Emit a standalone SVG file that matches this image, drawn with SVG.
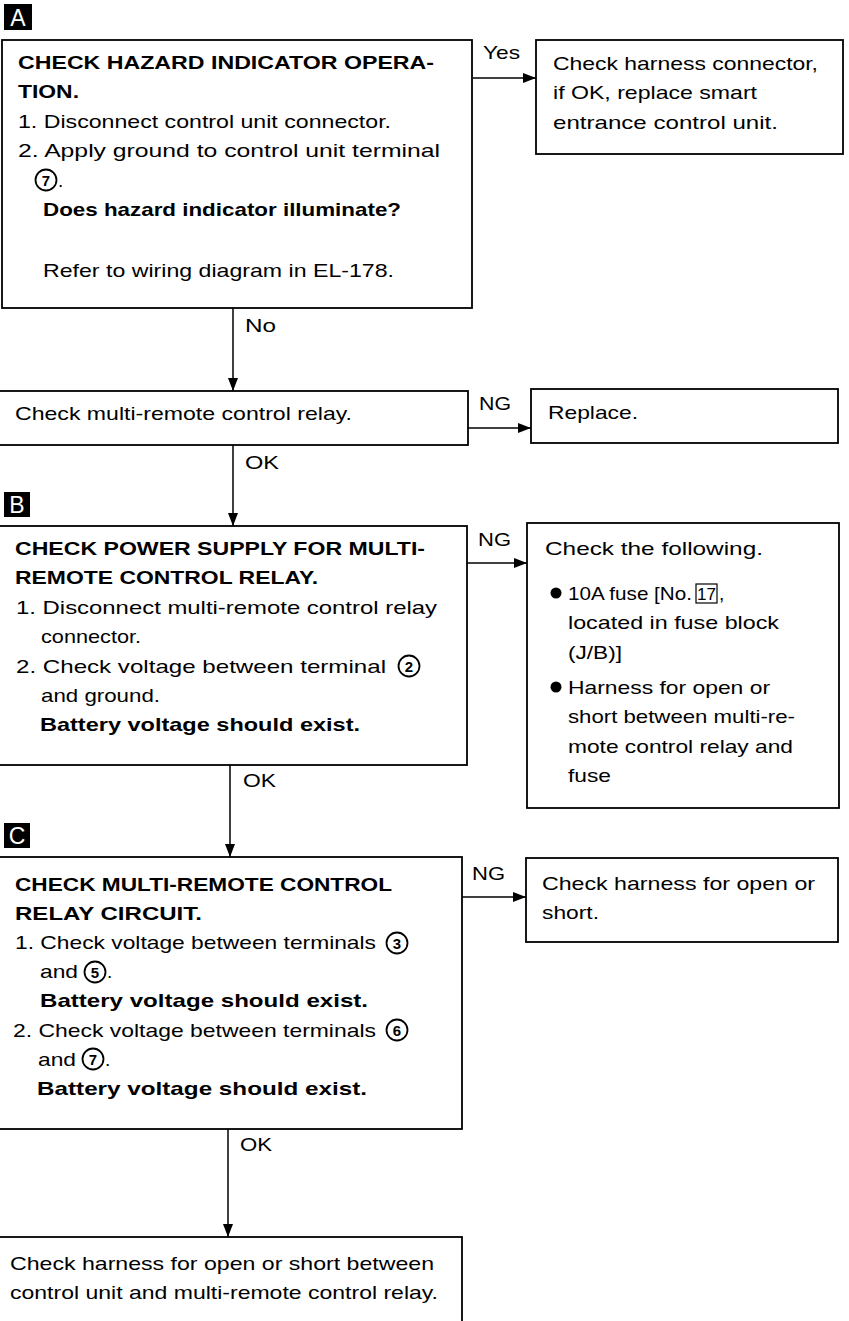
<svg xmlns="http://www.w3.org/2000/svg" width="849" height="1321" viewBox="0 0 849 1321">
<style>
.t{font-family:"Liberation Sans",Arial,Helvetica,sans-serif;font-size:19px;fill:#000}
.b{font-weight:bold}
.box{fill:#fff;stroke:#000;stroke-width:1.8}
.conn{stroke:#000;stroke-width:1.5;fill:none}
.cir{fill:none;stroke:#000;stroke-width:1.8}
.dg{font-family:"Liberation Sans",Arial,sans-serif;font-size:15px;font-weight:bold;text-anchor:middle}
.tag{fill:#000}
.tagt{font-family:"Liberation Sans",Arial,sans-serif;font-size:23px;fill:#fff;text-anchor:middle}
</style>
<defs>
<marker id="ah" markerUnits="userSpaceOnUse" markerWidth="13" markerHeight="10" refX="13" refY="5" orient="auto">
<path d="M0,0 L13,5 L0,10 z" fill="#000"/>
</marker>
</defs>

<g id="connectors">
<line class="conn" x1="473" y1="78" x2="536" y2="78" marker-end="url(#ah)"/>
<line class="conn" x1="233" y1="308" x2="233" y2="391" marker-end="url(#ah)"/>
<line class="conn" x1="468" y1="428" x2="531" y2="428" marker-end="url(#ah)"/>
<line class="conn" x1="233" y1="445" x2="233" y2="526" marker-end="url(#ah)"/>
<line class="conn" x1="467" y1="563" x2="527" y2="563" marker-end="url(#ah)"/>
<line class="conn" x1="230" y1="765" x2="230" y2="857" marker-end="url(#ah)"/>
<line class="conn" x1="462" y1="897" x2="526" y2="897" marker-end="url(#ah)"/>
<line class="conn" x1="228" y1="1129" x2="228" y2="1237" marker-end="url(#ah)"/>
<text class="t" x="483" y="59" textLength="37" lengthAdjust="spacingAndGlyphs">Yes</text>
<text class="t" x="245" y="332" textLength="31" lengthAdjust="spacingAndGlyphs">No</text>
<text class="t" x="479" y="410" textLength="32" lengthAdjust="spacingAndGlyphs">NG</text>
<text class="t" x="245" y="469" textLength="34" lengthAdjust="spacingAndGlyphs">OK</text>
<text class="t" x="478" y="546" textLength="33" lengthAdjust="spacingAndGlyphs">NG</text>
<text class="t" x="243" y="787" textLength="33" lengthAdjust="spacingAndGlyphs">OK</text>
<text class="t" x="472" y="880" textLength="33" lengthAdjust="spacingAndGlyphs">NG</text>
<text class="t" x="240" y="1151" textLength="32" lengthAdjust="spacingAndGlyphs">OK</text>
</g>

<g id="tagA">
<rect class="tag" x="4" y="4" width="28" height="26"/>
<text class="tagt" x="18" y="26">A</text>
</g>
<g id="tagB">
<rect class="tag" x="4" y="492" width="26" height="25"/>
<text class="tagt" x="17" y="513">B</text>
</g>
<g id="tagC">
<rect class="tag" x="4" y="823" width="26" height="25"/>
<text class="tagt" x="17" y="844">C</text>
</g>

<g id="nodeA">
<rect class="box" x="2" y="40" width="470" height="268"/>
<text class="t b" x="18" y="68.5" textLength="416" lengthAdjust="spacingAndGlyphs">CHECK HAZARD INDICATOR OPERA-</text>
<text class="t b" x="18" y="98" textLength="61" lengthAdjust="spacingAndGlyphs">TION.</text>
<text class="t" x="18" y="127.5" textLength="373" lengthAdjust="spacingAndGlyphs">1. Disconnect control unit connector.</text>
<text class="t" x="18" y="157" textLength="422" lengthAdjust="spacingAndGlyphs">2. Apply ground to control unit terminal</text>
<circle class="cir" cx="46" cy="180" r="10.5"/>
<text class="dg" x="46" y="185.5">7</text>
<text class="t" x="58" y="186.5">.</text>
<text class="t b" x="43" y="216" textLength="358" lengthAdjust="spacingAndGlyphs">Does hazard indicator illuminate?</text>
<text class="t" x="43" y="277" textLength="351" lengthAdjust="spacingAndGlyphs">Refer to wiring diagram in EL-178.</text>
</g>

<g id="nodeYes">
<rect class="box" x="536" y="40" width="307" height="114"/>
<text class="t" x="553" y="69.5" textLength="265" lengthAdjust="spacingAndGlyphs">Check harness connector,</text>
<text class="t" x="553" y="99" textLength="204" lengthAdjust="spacingAndGlyphs">if OK, replace smart</text>
<text class="t" x="553" y="128.5" textLength="225" lengthAdjust="spacingAndGlyphs">entrance control unit.</text>
</g>

<g id="nodeRelay">
<rect class="box" x="-2" y="391" width="470" height="54"/>
<text class="t" x="15" y="420" textLength="337" lengthAdjust="spacingAndGlyphs">Check multi-remote control relay.</text>
</g>

<g id="nodeReplace">
<rect class="box" x="531" y="389" width="307" height="54"/>
<text class="t" x="548" y="419" textLength="90" lengthAdjust="spacingAndGlyphs">Replace.</text>
</g>

<g id="nodeB">
<rect class="box" x="-2" y="526" width="469" height="239"/>
<text class="t b" x="15" y="554.5" textLength="410" lengthAdjust="spacingAndGlyphs">CHECK POWER SUPPLY FOR MULTI-</text>
<text class="t b" x="15" y="584" textLength="303" lengthAdjust="spacingAndGlyphs">REMOTE CONTROL RELAY.</text>
<text class="t" x="16" y="613.5" textLength="421" lengthAdjust="spacingAndGlyphs">1. Disconnect multi-remote control relay</text>
<text class="t" x="41" y="643" textLength="100" lengthAdjust="spacingAndGlyphs">connector.</text>
<text class="t" x="16" y="672.5" textLength="370" lengthAdjust="spacingAndGlyphs">2. Check voltage between terminal</text>
<circle class="cir" cx="409" cy="666" r="10.5"/>
<text class="dg" x="409" y="671.5">2</text>
<text class="t" x="41" y="702" textLength="119" lengthAdjust="spacingAndGlyphs">and ground.</text>
<text class="t b" x="40" y="731" textLength="320" lengthAdjust="spacingAndGlyphs">Battery voltage should exist.</text>
</g>

<g id="nodeFollowing">
<rect class="box" x="527" y="523" width="312" height="285"/>
<text class="t" x="545" y="555" textLength="218" lengthAdjust="spacingAndGlyphs">Check the following.</text>
<circle cx="556" cy="593" r="5.5" fill="#000"/>
<text class="t" x="568" y="599.5" textLength="124" lengthAdjust="spacingAndGlyphs">10A fuse [No.</text>
<rect x="696" y="584" width="21" height="19" fill="none" stroke="#000" stroke-width="1.2"/>
<text class="t" x="706.5" y="599.5" text-anchor="middle" style="font-size:17px">17</text>
<text class="t" x="719" y="599.5">,</text>
<text class="t" x="568" y="629" textLength="211" lengthAdjust="spacingAndGlyphs">located in fuse block</text>
<text class="t" x="568" y="658.5" textLength="54" lengthAdjust="spacingAndGlyphs">(J/B)]</text>
<circle cx="556" cy="687" r="5.5" fill="#000"/>
<text class="t" x="568" y="693.5" textLength="202" lengthAdjust="spacingAndGlyphs">Harness for open or</text>
<text class="t" x="568" y="723" textLength="227" lengthAdjust="spacingAndGlyphs">short between multi-re-</text>
<text class="t" x="568" y="752.5" textLength="225" lengthAdjust="spacingAndGlyphs">mote control relay and</text>
<text class="t" x="568" y="782" textLength="43" lengthAdjust="spacingAndGlyphs">fuse</text>
</g>

<g id="nodeC">
<rect class="box" x="-2" y="857" width="464" height="272"/>
<text class="t b" x="15" y="890.5" textLength="377" lengthAdjust="spacingAndGlyphs">CHECK MULTI-REMOTE CONTROL</text>
<text class="t b" x="15" y="919.5" textLength="187" lengthAdjust="spacingAndGlyphs">RELAY CIRCUIT.</text>
<text class="t" x="15" y="949" textLength="361" lengthAdjust="spacingAndGlyphs">1. Check voltage between terminals</text>
<circle class="cir" cx="397" cy="943" r="10.5"/>
<text class="dg" x="397" y="948.5">3</text>
<text class="t" x="40" y="978" textLength="38" lengthAdjust="spacingAndGlyphs">and</text>
<circle class="cir" cx="95" cy="972" r="10.5"/>
<text class="dg" x="95" y="977.5">5</text>
<text class="t" x="107" y="978">.</text>
<text class="t b" x="40" y="1007" textLength="328" lengthAdjust="spacingAndGlyphs">Battery voltage should exist.</text>
<text class="t" x="13" y="1036.5" textLength="363" lengthAdjust="spacingAndGlyphs">2. Check voltage between terminals</text>
<circle class="cir" cx="397" cy="1030" r="10.5"/>
<text class="dg" x="397" y="1035.5">6</text>
<text class="t" x="38" y="1065.5" textLength="38" lengthAdjust="spacingAndGlyphs">and</text>
<circle class="cir" cx="93" cy="1059" r="10.5"/>
<text class="dg" x="93" y="1064.5">7</text>
<text class="t" x="105" y="1065.5">.</text>
<text class="t b" x="37" y="1094.5" textLength="330" lengthAdjust="spacingAndGlyphs">Battery voltage should exist.</text>
</g>

<g id="nodeShort">
<rect class="box" x="526" y="858" width="312" height="84"/>
<text class="t" x="542" y="889.5" textLength="273" lengthAdjust="spacingAndGlyphs">Check harness for open or</text>
<text class="t" x="542" y="918.5" textLength="57" lengthAdjust="spacingAndGlyphs">short.</text>
</g>

<g id="nodeFinal">
<rect class="box" x="-2" y="1237" width="464" height="100"/>
<text class="t" x="10" y="1269.5" textLength="424" lengthAdjust="spacingAndGlyphs">Check harness for open or short between</text>
<text class="t" x="10" y="1298.5" textLength="428" lengthAdjust="spacingAndGlyphs">control unit and multi-remote control relay.</text>
</g>
</svg>
